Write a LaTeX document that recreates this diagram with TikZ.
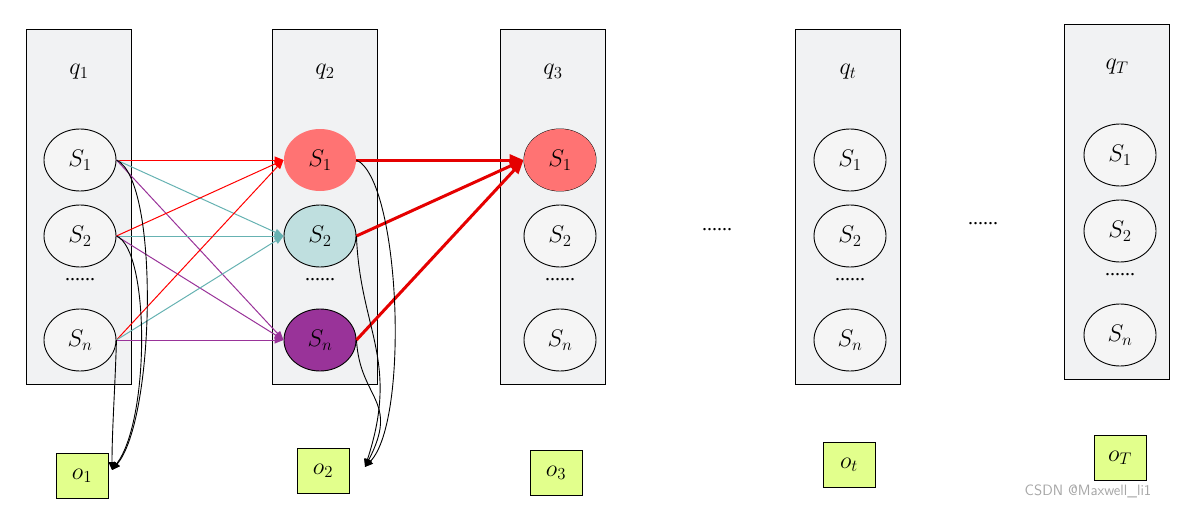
\RequirePackage{fix-cm}
\documentclass[tikz,border=0pt]{standalone}
\usepackage{fontspec}
\setmainfont{Liberation Serif}
\usetikzlibrary{arrows.meta,shapes.geometric}
\begin{document}
\begin{tikzpicture}[x=1pt,y=-1pt,
 col/.style={draw=black,line width=1.3pt,fill=cyan!8!gray!12,minimum width=105pt,minimum height=355pt,inner sep=0},
 st/.style={draw=black,line width=0.9pt,fill=gray!8,ellipse,minimum width=72pt,minimum height=62pt,inner sep=0,font=\fontsize{24}{26}\selectfont},
 ob/.style={draw=black,line width=0.9pt,fill=lime!45,minimum width=52pt,minimum height=45pt,inner sep=0,font=\fontsize{24}{26}\selectfont},
 ql/.style={font=\fontsize{24}{26}\selectfont},
 dd/.style={font=\fontsize{20}{22}\selectfont},
 tr/.style={-{Triangle[length=9pt,width=7pt]},line width=1pt},
 em/.style={-{Triangle[length=8pt,width=7pt]},black,line width=0.9pt},
 big/.style={-{Triangle[length=14pt,width=11pt]},red!90!black,line width=3pt}]
\useasboundingbox (0,0) rectangle (1194,511);
\foreach \n/\x/\t/\yo in {a/79/1/0,b/325/2/0,c/553/3/0,d/848/t/0,e/1117/T/-5}{
  \node[col] (box\n) at (\x,207+\yo) {};
  \node[ql] (q\n) at (\x,72+\yo) {$q_{\t}$};
}
\foreach \n/\x/\yo in {a/80/0,c/560/0,d/850/0,e/1120/-5}{
  \node[st] (\n1) at (\x,160+\yo) {$S_1$};
  \node[st] (\n2) at (\x,236+\yo) {$S_2$};
  \node[dd] (\n d) at (\x,280+\yo) {......};
  \node[st] (\n n) at (\x,340+\yo) {$S_n$};
}
\node[st,fill=red!55,draw=none] (b1) at (320,160) {$S_1$};
\node[st,fill=teal!25] (b2) at (320,236) {$S_2$};
\node[dd] (bd) at (320,280) {......};
\node[st,fill=violet!80] (bn) at (320,340) {$S_n$};
\node[st,fill=red!55,draw=none] (c1) at (560,160) {$S_1$};
\node[dd] (dots1) at (717,230) {......};
\node[dd] (dots2) at (983,224) {......};
\foreach \s in {1,2,n}{
 \draw[tr,red] (a\s.east) -- (b1.west);
 \draw[tr,teal!60] (a\s.east) -- (b2.west);
 \draw[tr,violet!80] (a\s.east) -- (bn.west);
}
\foreach \s in {1,2,n}{\draw[big] (b\s.east) -- (c1.west);}
\node[ob] (o1) at (82,476) {$o_1$};
\node[ob] (o2) at (323,471) {$o_2$};
\node[ob] (o3) at (556,473) {$o_3$};
\node[ob] (o4) at (849,465) {$o_t$};
\node[ob] (o5) at (1120,458) {$o_T$};
\coordinate (e1) at (112,470);
\coordinate (e2) at (365,467);
\draw[em] (a1.east) .. controls (160,180) and (155,420) .. (e1);
\draw[em] (a2.east) .. controls (150,250) and (150,420) .. (e1);
\draw[em] (an.east) .. controls (115,390) and (112,430) .. (e1);
\draw[em] (b1.east) .. controls (400,180) and (410,420) .. (e2);
\draw[em] (b2.east) .. controls (360,330) and (400,360) .. (e2);
\draw[em] (bn.east) .. controls (360,400) and (400,400) .. (e2);
\node[text=gray!70,font=\fontsize{15}{17}\sffamily] (wm) at (1088,491) {CSDN @Maxwell\_li1};
\end{tikzpicture}
\end{document}
